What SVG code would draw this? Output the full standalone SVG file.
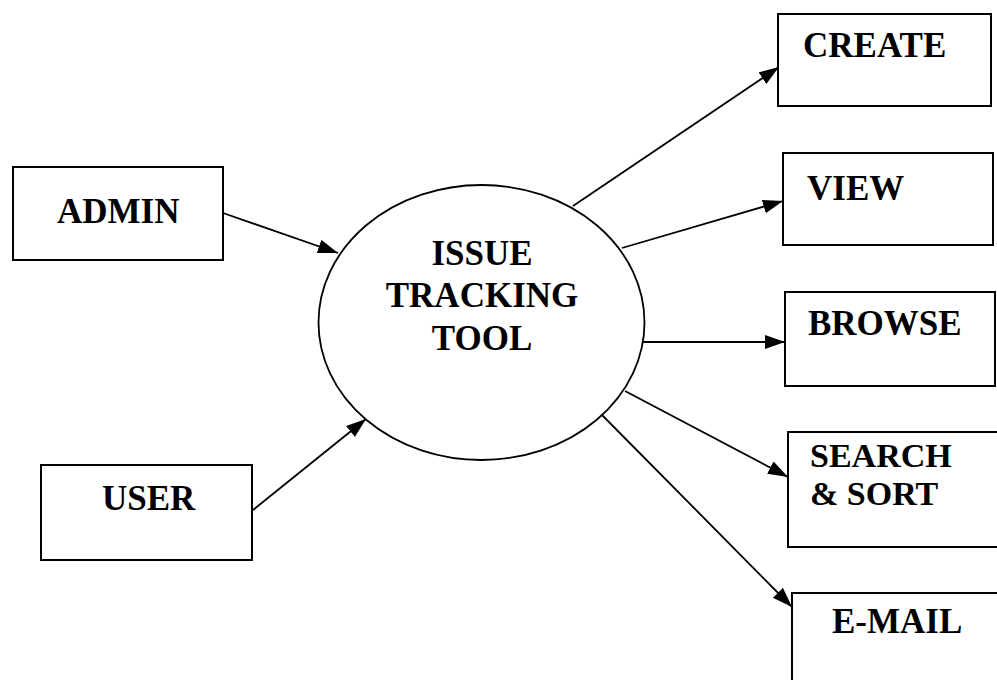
<svg xmlns="http://www.w3.org/2000/svg" width="997" height="680" viewBox="0 0 997 680">
<style>
.box{fill:#fff;stroke:#000;stroke-width:2}
.lbl{font-family:"Liberation Serif","Times New Roman",serif;font-weight:bold;font-size:35px;fill:#000}
.conn{stroke:#000;stroke-width:1.8;fill:none;marker-end:url(#ah)}
</style>
<defs>
<marker id="ah" markerUnits="userSpaceOnUse" markerWidth="22" markerHeight="16" refX="20" refY="7" orient="auto">
<path d="M0,0 L20,7 L0,14 Z" fill="#000"/>
</marker>
</defs>
<rect width="997" height="680" fill="#fff"/>
<g id="connectors">
<line class="conn" x1="223" y1="213" x2="338" y2="253"/>
<line class="conn" x1="253" y1="510" x2="366" y2="419"/>
<line class="conn" x1="573" y1="206" x2="779" y2="67"/>
<line class="conn" x1="622" y1="248" x2="783" y2="201"/>
<line class="conn" x1="643" y1="342" x2="785" y2="342"/>
<line class="conn" x1="625" y1="391" x2="788" y2="477"/>
<line class="conn" x1="602" y1="415" x2="792" y2="607"/>
</g>
<g id="tool">
<ellipse cx="481.5" cy="322.5" rx="163" ry="137.5" fill="#fff" stroke="#000" stroke-width="1.8"/>
<text class="lbl" x="482" y="265" text-anchor="middle">ISSUE</text>
<text class="lbl" x="482" y="307" text-anchor="middle">TRACKING</text>
<text class="lbl" x="482" y="350" text-anchor="middle">TOOL</text>
</g>
<g id="admin">
<rect class="box" x="13" y="167" width="210" height="93"/>
<text class="lbl" x="57" y="223">ADMIN</text>
</g>
<g id="user">
<rect class="box" x="41" y="465" width="211" height="95"/>
<text class="lbl" x="102" y="510">USER</text>
</g>
<g id="create">
<rect class="box" x="778" y="14" width="213" height="92"/>
<text class="lbl" x="803" y="57">CREATE</text>
</g>
<g id="view">
<rect class="box" x="783" y="153" width="210" height="92"/>
<text class="lbl" x="807" y="200">VIEW</text>
</g>
<g id="browse">
<rect class="box" x="785" y="292" width="210" height="94"/>
<text class="lbl" x="808" y="335">BROWSE</text>
</g>
<g id="search">
<rect class="box" x="788" y="432" width="212" height="115"/>
<text class="lbl" x="810" y="467" style="font-size:34px">SEARCH</text>
<text class="lbl" x="810" y="505" style="font-size:34px">&amp; SORT</text>
</g>
<g id="email">
<rect class="box" x="792" y="593" width="210" height="100"/>
<text class="lbl" x="832" y="633">E-MAIL</text>
</g>
</svg>
